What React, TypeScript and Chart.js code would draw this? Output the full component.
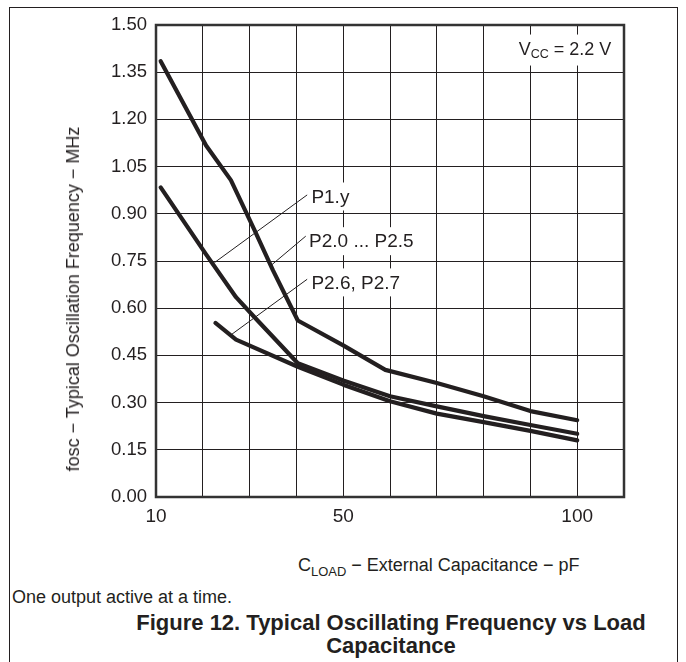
import React, { useEffect, useRef } from 'react';
import { Chart, registerables } from 'chart.js';

Chart.register(...registerables);

const INK = '#231f20';
const FONT = '"Liberation Sans", Arial, Helvetica, sans-serif';

// Curve P2.0 ... P2.5 (load capacitance pF, frequency MHz)
const capP20 = [11, 20.7, 26, 31, 35, 40.3, 50, 59, 70, 80, 90, 100];
const freqP20 = [1.385, 1.117, 1.007, 0.85, 0.72, 0.561, 0.482, 0.404, 0.362, 0.32, 0.273, 0.244];
// Curve P1.y
const capP1 = [11, 20.7, 27.1, 31, 40.3, 50, 60, 70, 80, 90, 100];
const freqP1 = [0.984, 0.771, 0.635, 0.572, 0.425, 0.37, 0.32, 0.288, 0.257, 0.229, 0.201];
// Curve P2.6, P2.7
const capP26 = [22.7, 27.1, 40.3, 50, 60, 70, 80, 90, 100];
const freqP26 = [0.553, 0.5, 0.414, 0.357, 0.304, 0.265, 0.238, 0.21, 0.18];

const xGrid = [10, 20, 30, 40, 50, 60, 70, 80, 90, 100, 110];
const xLabeled = [10, 50, 100];
const yTicks = [0, 0.15, 0.3, 0.45, 0.6, 0.75, 0.9, 1.05, 1.2, 1.35, 1.5];

const labelTexts = ['P1.y', 'P2.0 ... P2.5', 'P2.6, P2.7'];
const labelX = [43.2, 42.7, 43.2];
const labelY = [0.955, 0.813, 0.682];
const leaderFromX = [42.3, 42.0, 42.3];
const leaderFromY = [0.96, 0.829, 0.692];
const leaderToX = [22.5, 34.5, 26];
const leaderToY = [0.745, 0.735, 0.515];

const vccX = 107.3;
const vccY = 1.422;

const annotPlugin = {
  id: 'annot',
  afterDatasetsDraw(chart: any) {
    const { ctx, chartArea: a, scales } = chart;
    const xs = scales.x;
    const ys = scales.y;
    ctx.save();
    // leader lines
    ctx.strokeStyle = INK;
    ctx.lineWidth = 1;
    for (let i = 0; i < labelTexts.length; i++) {
      ctx.beginPath();
      ctx.moveTo(xs.getPixelForValue(leaderFromX[i]), ys.getPixelForValue(leaderFromY[i]));
      ctx.lineTo(xs.getPixelForValue(leaderToX[i]), ys.getPixelForValue(leaderToY[i]));
      ctx.stroke();
    }
    ctx.font = `19px ${FONT}`;
    ctx.textBaseline = 'middle';
    ctx.textAlign = 'left';
    for (let i = 0; i < labelTexts.length; i++) {
      const px = xs.getPixelForValue(labelX[i]);
      const py = ys.getPixelForValue(labelY[i]);
      const w = ctx.measureText(labelTexts[i]).width;
      ctx.fillStyle = '#ffffff';
      ctx.fillRect(px - 2, py - 14, w + 5, 28);
      ctx.fillStyle = INK;
      ctx.fillText(labelTexts[i], px, py + 1);
    }
    // Vcc label
    const big = `18px ${FONT}`;
    const small = `12.5px ${FONT}`;
    ctx.font = big;
    const wV = ctx.measureText('V').width;
    const wRest = ctx.measureText(' = 2.2 V').width;
    ctx.font = small;
    const wCC = ctx.measureText('CC').width;
    const total = wV + wCC + wRest;
    const rx = xs.getPixelForValue(vccX);
    const ry = ys.getPixelForValue(vccY);
    const lx = rx - total;
    ctx.fillStyle = '#ffffff';
    ctx.fillRect(lx - 4, ry - 15, total + 8, 31);
    ctx.fillStyle = INK;
    ctx.font = big;
    ctx.fillText('V', lx, ry);
    ctx.font = small;
    ctx.fillText('CC', lx + wV, ry + 5);
    ctx.font = big;
    ctx.fillText(' = 2.2 V', lx + wV + wCC, ry);
    // plot frame
    ctx.strokeStyle = '#333333';
    ctx.lineWidth = 2.5;
    ctx.strokeRect(a.left, a.top, a.right - a.left, a.bottom - a.top);
    ctx.restore();
  },
};

function pts(xs: number[], ys: number[]) {
  return xs.map((x, i) => ({ x, y: ys[i] }));
}

export default function App() {
  const ref = useRef<HTMLCanvasElement | null>(null);
  useEffect(() => {
    if (!ref.current) return;
    const common = {
      borderColor: INK,
      borderWidth: 4.2,
      pointRadius: 0,
      tension: 0,
      fill: false,
      borderCapStyle: 'round',
      borderJoinStyle: 'round',
    };
    const chart = new Chart(ref.current, {
      type: 'line',
      data: {
        datasets: [
          { label: 'P2.0 ... P2.5', data: pts(capP20, freqP20), ...common },
          { label: 'P1.y', data: pts(capP1, freqP1), ...common },
          { label: 'P2.6, P2.7', data: pts(capP26, freqP26), ...common },
        ] as any,
      },
      options: {
        animation: false,
        responsive: false,
        devicePixelRatio: 1,
        layout: { padding: { top: 25, right: 686 - 624, left: 0, bottom: 0 } },
        plugins: { legend: { display: false }, tooltip: { enabled: false } },
        scales: {
          x: {
            type: 'linear',
            min: 10,
            max: 110,
            afterBuildTicks: (s: any) => {
              s.ticks = xGrid.map((v) => ({ value: v }));
            },
            afterFit: (s: any) => {
              s.height = 540 - 497;
            },
            ticks: {
              autoSkip: false,
              maxRotation: 0,
              color: INK,
              font: { size: 19, family: FONT },
              padding: 8,
              callback: (v: any) => (xLabeled.includes(Number(v)) ? String(v) : ''),
            },
            grid: { color: INK, lineWidth: 1, drawTicks: false },
            border: { display: false },
          },
          y: {
            type: 'linear',
            min: 0,
            max: 1.5,
            afterBuildTicks: (s: any) => {
              s.ticks = yTicks.map((v) => ({ value: v }));
            },
            afterFit: (s: any) => {
              s.width = 156;
            },
            ticks: {
              autoSkip: false,
              color: INK,
              font: { size: 18.5, family: FONT },
              padding: 9,
              callback: (v: any) => Number(v).toFixed(2),
            },
            grid: { color: INK, lineWidth: 1, drawTicks: false },
            border: { display: false },
          },
        },
      } as any,
      plugins: [annotPlugin],
    });
    return () => chart.destroy();
  }, []);

  const sub = { fontSize: '0.72em', position: 'relative' as const, top: '0.35em' };

  return (
    <div
      style={{
        position: 'absolute',
        left: 0,
        top: 0,
        width: 686,
        height: 662,
        fontFamily: FONT,
        color: INK,
        background: '#fff',
        overflow: 'hidden',
      }}
    >
      <div
        style={{
          position: 'absolute',
          left: 9,
          top: 7,
          width: 669,
          height: 670,
          borderTop: `1.5px solid ${INK}`,
          borderLeft: `1.5px solid ${INK}`,
          borderRight: `1.5px solid ${INK}`,
          boxSizing: 'border-box',
        }}
      />
      <canvas
        ref={ref}
        width={686}
        height={540}
        style={{ position: 'absolute', left: 0, top: 0, width: 686, height: 540 }}
      />
      <div
        style={{
          position: 'absolute',
          left: 73,
          top: 299,
          transform: 'translate(-50%, -50%) rotate(-90deg)',
          whiteSpace: 'nowrap',
          fontSize: 18,
          lineHeight: '20px',
        }}
      >
        fosc − Typical Oscillation Frequency − MHz
      </div>
      <div
        style={{
          position: 'absolute',
          left: 298,
          top: 554,
          whiteSpace: 'nowrap',
          fontSize: 18,
          lineHeight: '22px',
        }}
      >
        C<span style={sub}>LOAD</span> − External Capacitance − pF
      </div>
      <div
        style={{
          position: 'absolute',
          left: 12,
          top: 586,
          whiteSpace: 'nowrap',
          fontSize: 18,
          lineHeight: '22px',
        }}
      >
        One output active at a time.
      </div>
      <div
        style={{
          position: 'absolute',
          left: 41,
          width: 700,
          top: 611,
          textAlign: 'center',
          fontWeight: 'bold',
          fontSize: 22,
          lineHeight: '23px',
        }}
      >
        Figure 12. Typical Oscillating Frequency vs Load
        <br />
        Capacitance
      </div>
    </div>
  );
}
